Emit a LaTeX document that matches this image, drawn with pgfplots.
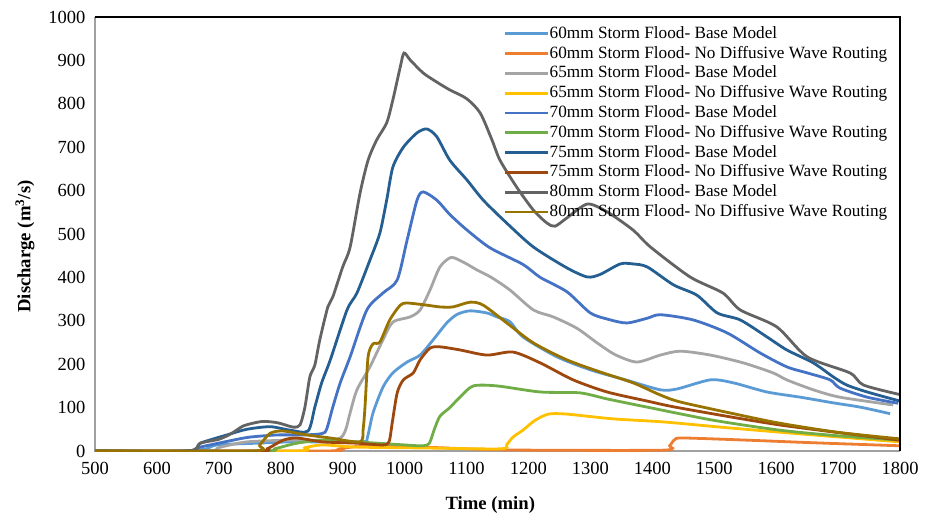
\documentclass[border=0pt]{standalone}
\usepackage{fontspec}
\setmainfont{Liberation Serif}
\usepackage{pgfplots}
\pgfplotsset{compat=1.18}
\definecolor{cA}{HTML}{5B9BD5}
\definecolor{cB}{HTML}{ED7D31}
\definecolor{cC}{HTML}{A5A5A5}
\definecolor{cD}{HTML}{FFC000}
\definecolor{cE}{HTML}{4472C4}
\definecolor{cF}{HTML}{70AD47}
\definecolor{cG}{HTML}{255E91}
\definecolor{cH}{HTML}{9E480E}
\definecolor{cI}{HTML}{636363}
\definecolor{cJ}{HTML}{997300}
\definecolor{axgray}{HTML}{A0A0A0}
\begin{document}
\begin{tikzpicture}
\useasboundingbox (-95pt,-64pt) rectangle (838pt,451pt);
\begin{axis}[
  scale only axis, width=805pt, height=434pt,
  xmin=500, xmax=1800, ymin=0, ymax=1000,
  xtick={500,600,...,1800}, ytick={0,100,...,1000},
  axis x line*=bottom, axis y line*=left,
  x axis line style={-, draw=axgray, line width=1.3pt},
  y axis line style={-, draw=axgray, line width=1.3pt},
  major tick length=0pt,
  /pgf/number format/1000 sep={},
  /pgf/number format/assume math mode=true,
  ticklabel style={font=\fontsize{18.5}{22}\selectfont},
  yticklabel style={xshift=-6pt},
  xticklabel style={yshift=-8pt},
  xlabel={\textbf{Time (min)}},
  ylabel={\textbf{Discharge (m\textsuperscript{3}/s)}},
  label style={font=\fontsize{18.7}{22}\selectfont},
  xlabel style={at={(axis description cs:0.491,-0.124)}, anchor=center},
  ylabel style={at={(axis description cs:-0.087,0.471)}, anchor=center},
  every axis plot/.append style={line width=2.8pt, smooth, tension=0.45},
  legend cell align=left,
  legend image code/.code={\draw[#1, line width=2.8pt] (0pt,0pt) -- (43pt,0pt);},
  legend style={draw=none, fill=none, at={(axis description cs:0.508,0.981)}, anchor=north west,
    inner sep=0pt, outer sep=0pt, row sep=2.8pt,
    font=\fontsize{17.2}{19.8}\selectfont,
    nodes={inner sep=0pt, text height=13pt, text depth=4pt},
    /tikz/every even column/.append style={column sep=3pt}},
  clip=true,
  after end axis/.code={
    \draw[black, line width=1.5pt] (rel axis cs:0,1) -- (rel axis cs:1,1) -- (rel axis cs:1,0);
  },
]
\addplot[cA] coordinates {(500,0)(600,0)(650,0)(680,5)(697,14)(761,18)(815,21)(868,21)(933,21)(940,32)(949,88)(965,147)(981,180)(1004,205)(1025,221)(1046,256)(1068,295)(1085,315)(1106,323)(1133,318)(1149,309)(1170,298)(1191,263)(1246,217)(1300,187)(1359,163)(1413,141)(1440,143)(1494,164)(1531,157)(1585,136)(1639,124)(1692,111)(1736,101)(1784,86)};
\addlegendentry{60mm Storm Flood- Base Model}
\addplot[cB] coordinates {(500,0)(870,0)(895,5)(920,10)(950,12)(1030,9)(1120,4)(1200,2)(1418,2)(1428,12)(1436,26)(1450,30)(1553,25)(1660,19)(1800,12)};
\addlegendentry{60mm Storm Flood- No Diffusive Wave Routing}
\addplot[cC] coordinates {(500,0)(680,0)(700,8)(745,21)(815,25)(868,25)(896,30)(905,50)(912,88)(923,141)(944,194)(965,256)(981,297)(1009,309)(1025,325)(1041,371)(1057,424)(1075,446)(1095,435)(1117,417)(1140,400)(1170,371)(1208,325)(1240,309)(1278,283)(1311,249)(1340,222)(1375,205)(1413,221)(1445,230)(1494,221)(1547,203)(1595,180)(1617,164)(1660,141)(1703,124)(1789,106)};
\addlegendentry{65mm Storm Flood- Base Model}
\addplot[cD] coordinates {(500,0)(820,0)(840,8)(868,14)(923,9)(1030,7)(1155,5)(1165,15)(1175,32)(1191,48)(1210,70)(1232,85)(1262,85)(1337,74)(1418,67)(1526,53)(1660,37)(1800,21)};
\addlegendentry{65mm Storm Flood- No Diffusive Wave Routing}
\addplot[cE] coordinates {(500,0)(650,0)(670,9)(723,25)(750,32)(794,37)(836,37)(866,40)(874,50)(884,101)(896,157)(912,217)(939,325)(965,364)(988,394)(1004,486)(1020,578)(1030,597)(1052,578)(1073,545)(1100,510)(1138,468)(1191,430)(1219,400)(1262,367)(1300,318)(1330,303)(1359,295)(1392,306)(1413,314)(1466,302)(1521,272)(1574,226)(1617,194)(1650,180)(1687,164)(1703,145)(1747,124)(1797,110)};
\addlegendentry{70mm Storm Flood- Base Model}
\addplot[cF] coordinates {(500,0)(770,0)(790,5)(826,18)(868,25)(923,21)(1000,14)(1030,12)(1040,18)(1048,50)(1057,80)(1073,100)(1090,125)(1111,150)(1149,150)(1219,136)(1283,134)(1327,120)(1392,101)(1498,71)(1606,48)(1700,35)(1800,25)};
\addlegendentry{70mm Storm Flood- No Diffusive Wave Routing}
\addplot[cG] coordinates {(500,0)(650,0)(670,18)(713,37)(745,50)(783,56)(815,48)(844,46)(855,101)(866,157)(880,210)(907,325)(923,364)(944,440)(960,502)(971,578)(981,654)(998,700)(1020,733)(1036,742)(1052,724)(1073,670)(1101,624)(1127,578)(1165,525)(1208,470)(1262,422)(1295,401)(1316,407)(1348,431)(1369,431)(1392,424)(1434,383)(1472,359)(1505,318)(1542,302)(1585,263)(1617,233)(1660,203)(1692,171)(1714,152)(1747,136)(1800,115)};
\addlegendentry{75mm Storm Flood- Base Model}
\addplot[cH] coordinates {(500,0)(760,0)(778,5)(804,25)(826,30)(868,21)(923,18)(965,14)(975,22)(980,65)(988,134)(998,164)(1014,180)(1025,210)(1041,237)(1057,240)(1089,233)(1133,221)(1175,228)(1219,203)(1272,164)(1327,136)(1392,115)(1445,99)(1606,60)(1800,25)};
\addlegendentry{75mm Storm Flood- No Diffusive Wave Routing}
\addplot[cI] coordinates {(500,0)(650,0)(670,18)(700,27)(720,40)(740,58)(770,68)(795,65)(820,55)(831,60)(839,101)(847,171)(855,198)(863,256)(876,332)(884,355)(900,424)(912,470)(928,594)(941,670)(955,717)(971,756)(981,809)(993,885)(999,917)(1009,901)(1030,871)(1052,850)(1073,832)(1100,812)(1122,779)(1141,717)(1154,670)(1181,608)(1208,555)(1230,525)(1243,518)(1262,537)(1295,569)(1327,551)(1369,509)(1397,470)(1461,401)(1514,364)(1542,325)(1601,286)(1650,217)(1719,180)(1741,152)(1800,130)};
\addlegendentry{80mm Storm Flood- Base Model}
\addplot[cJ] coordinates {(500,0)(755,0)(766,14)(783,41)(804,46)(842,37)(880,30)(928,21)(933,50)(936,101)(941,217)(949,247)(960,251)(976,302)(993,336)(1004,341)(1036,336)(1057,332)(1078,332)(1106,343)(1127,336)(1165,295)(1208,249)(1262,210)(1316,182)(1369,157)(1413,129)(1445,113)(1531,86)(1606,64)(1700,43)(1800,28)};
\addlegendentry{80mm Storm Flood- No Diffusive Wave Routing}
\end{axis}
\end{tikzpicture}
\end{document}
